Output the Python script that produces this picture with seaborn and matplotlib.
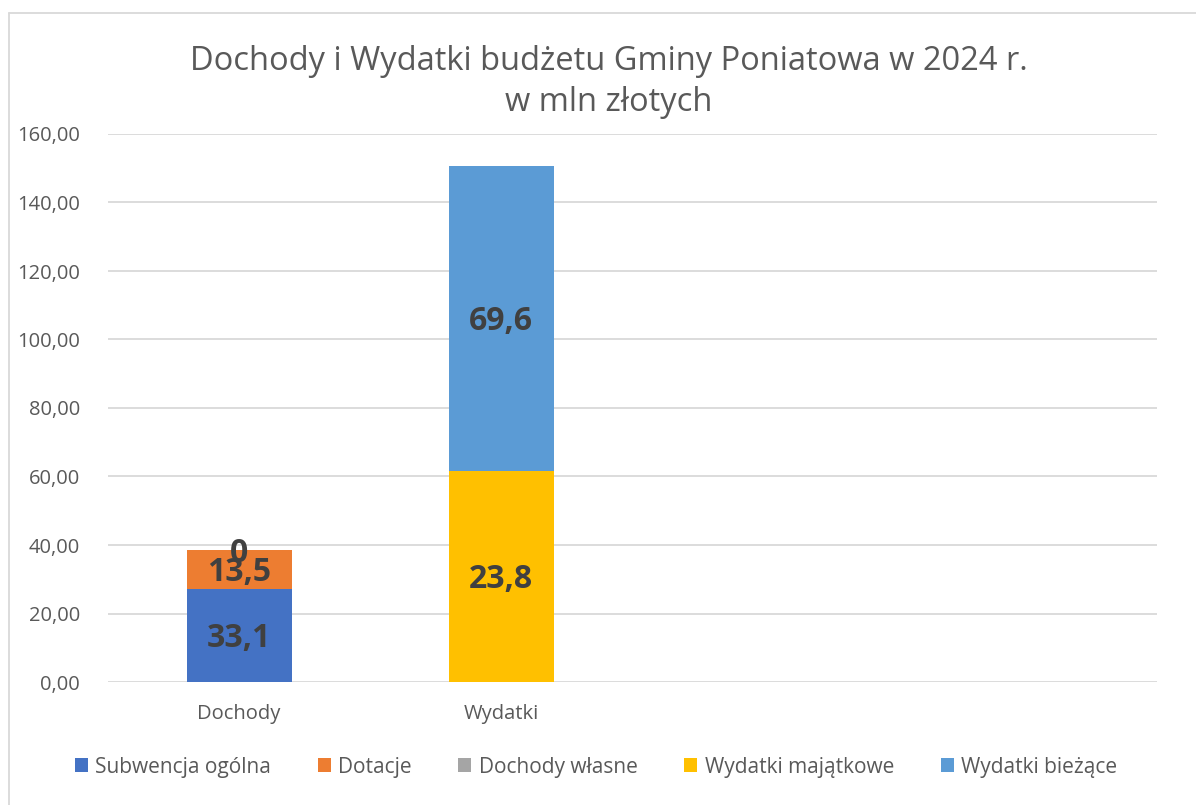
import matplotlib
matplotlib.use("Agg")
import matplotlib.pyplot as plt
import seaborn as sns
import pandas as pd
import numpy as np
from matplotlib.lines import Line2D
from matplotlib.patches import Patch

sns.set_theme(style="white")
plt.rcParams['font.family'] = ['Open Sans', 'DejaVu Sans']

# ---- data ----
categories = ["Dochody", "Wydatki"]
series_names = ["Subwencja ogólna", "Dotacje", "Dochody własne",
                "Wydatki majątkowe", "Wydatki bieżące"]
series_category = ["Dochody", "Dochody", "Dochody", "Wydatki", "Wydatki"]
series_heights = [27.2, 11.3, 0.0, 61.6, 89.1]          # drawn bar heights
series_labels = ["33,1", "13,5", "0", "23,8", "69,6"]    # data labels as shown
series_colors = ["#4472C4", "#ED7D31", "#A5A5A5", "#FFC000", "#5B9BD5"]
yticks = [0, 20, 40, 60, 80, 100, 120, 140, 160]
title = "Dochody i Wydatki budżetu Gminy Poniatowa w 2024 r.\nw mln złotych"

fig = plt.figure(figsize=(11.96, 8.05), dpi=100)
ax = fig.add_axes([108/1196, 1-682/805, (1157-108)/1196, (682-134)/805])

# compute stacking bottoms per category
bottoms = []
acc = {c: 0.0 for c in categories}
for cat, h in zip(series_category, series_heights):
    bottoms.append(acc[cat])
    acc[cat] += h

for name, cat, h, b, col, lab in zip(series_names, series_category, series_heights,
                                     bottoms, series_colors, series_labels):
    df = pd.DataFrame({"cat": [cat], "val": [h]})
    sns.barplot(data=df, x="cat", y="val", order=categories, bottom=b,
                color=col, width=0.4, saturation=1, ax=ax, errorbar=None,
                linewidth=0)
    ax.annotate(lab, (categories.index(cat), b + h / 2), xytext=(0, -3),
                textcoords="offset pixels",
                ha="center", va="center", fontsize=23, fontweight="bold",
                color="#404040", zorder=5)

ax.set_xlim(-0.5, 3.5)
ax.set_ylim(0, 160)
ax.set_yticks(yticks)
ax.set_yticklabels([f"{v:.2f}".replace(".", ",") for v in yticks],
                   fontsize=14.5, color="#595959")
ax.set_xticks(range(len(categories)))
ax.set_xticklabels(categories, fontsize=14.5, color="#595959")
ax.tick_params(axis="x", length=0, pad=16)
ax.tick_params(axis="y", length=0, pad=20)
ax.set_xlabel("")
ax.set_ylabel("")
ax.yaxis.grid(True, color="#D9D9D9", linewidth=1.3)
ax.set_axisbelow(True)
for s in ax.spines.values():
    s.set_visible(False)

fig.text(609/1196, 1 - 82/805, title, ha="center", va="center",
         fontsize=23.5, color="#595959", linespacing=1.3)

handles = [Patch(facecolor=c, edgecolor="none") for c in series_colors]
leg = fig.legend(handles, series_names, loc="center", ncol=5,
                 bbox_to_anchor=(596/1196, 1 - 767/805), frameon=False,
                 fontsize=15, handlelength=0.62, handleheight=0.62,
                 handletextpad=0.35, columnspacing=2.25)
for t in leg.get_texts():
    t.set_color("#595959")

# chart area border (top and left visible)
fig.add_artist(Line2D([9/1196, 9/1196], [0, 1 - 13/805], color="#D9D9D9",
                      linewidth=1.3, transform=fig.transFigure))
fig.add_artist(Line2D([9/1196, 1], [1 - 13/805, 1 - 13/805], color="#D9D9D9",
                      linewidth=1.3, transform=fig.transFigure))

fig.savefig("out.png", dpi=100, facecolor="white")
